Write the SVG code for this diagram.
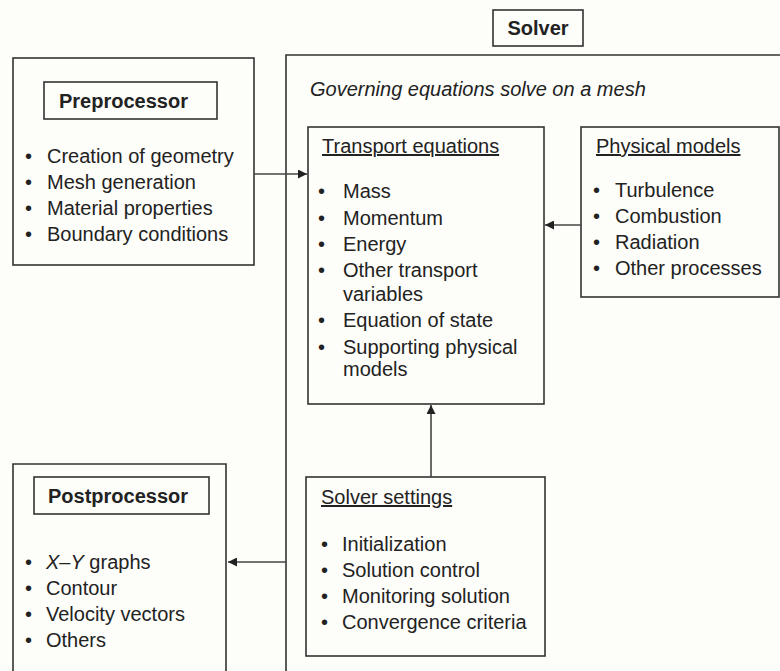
<svg xmlns="http://www.w3.org/2000/svg" width="780" height="671" viewBox="0 0 780 671">
<defs>
<style>
.box{fill:none;stroke:#333;stroke-width:1.6}
.t{font-family:"Liberation Sans",Arial,sans-serif;font-size:20px;fill:#222}
.b{font-weight:bold}
.u{text-decoration:underline}
.i{font-style:italic}
.conn{stroke:#444;stroke-width:1.6;fill:none}
</style>
<marker id="ah" viewBox="0 0 10 10" refX="10" refY="5" markerWidth="10" markerHeight="9" markerUnits="userSpaceOnUse" orient="auto">
<path d="M0,0 L10,5 L0,10 z" fill="#222"/>
</marker>
</defs>
<rect width="780" height="671" fill="#fdfdf9"/>

<g id="solver">
<rect class="box" x="493" y="10" width="90" height="36"/>
<text class="t b" x="538" y="35" text-anchor="middle">Solver</text>
<path class="box" d="M786,55 H286 V680"/>
<text class="t i" x="310" y="96">Governing equations solve on a mesh</text>
</g>

<g id="preprocessor">
<rect class="box" x="13" y="58" width="241" height="207"/>
<rect class="box" x="44" y="82" width="173" height="37"/>
<text class="t b" x="59" y="108">Preprocessor</text>
<g class="t">
<text x="25" y="163">•</text><text x="47" y="163">Creation of geometry</text>
<text x="25" y="189">•</text><text x="47" y="189">Mesh generation</text>
<text x="25" y="215">•</text><text x="47" y="215">Material properties</text>
<text x="25" y="241">•</text><text x="47" y="241">Boundary conditions</text>
</g>
</g>

<g id="transport">
<rect class="box" x="308" y="127" width="236" height="277"/>
<text class="t u" x="322" y="153">Transport equations</text>
<g class="t">
<text x="318" y="198">•</text><text x="343" y="198">Mass</text>
<text x="318" y="225">•</text><text x="343" y="225">Momentum</text>
<text x="318" y="251">•</text><text x="343" y="251">Energy</text>
<text x="318" y="277">•</text><text x="343" y="277">Other transport</text>
<text x="343" y="301">variables</text>
<text x="318" y="327">•</text><text x="343" y="327">Equation of state</text>
<text x="318" y="354">•</text><text x="343" y="354">Supporting physical</text>
<text x="343" y="376">models</text>
</g>
</g>

<g id="physical">
<rect class="box" x="581" y="127" width="198" height="170"/>
<text class="t u" x="596" y="153">Physical models</text>
<g class="t">
<text x="593" y="197">•</text><text x="615" y="197">Turbulence</text>
<text x="593" y="223">•</text><text x="615" y="223">Combustion</text>
<text x="593" y="249">•</text><text x="615" y="249">Radiation</text>
<text x="593" y="275">•</text><text x="615" y="275">Other processes</text>
</g>
</g>

<g id="settings">
<rect class="box" x="306" y="477" width="239" height="179"/>
<text class="t u" x="321" y="504">Solver settings</text>
<g class="t">
<text x="321" y="551">•</text><text x="342" y="551">Initialization</text>
<text x="321" y="577">•</text><text x="342" y="577">Solution control</text>
<text x="321" y="603">•</text><text x="342" y="603">Monitoring solution</text>
<text x="321" y="629">•</text><text x="342" y="629">Convergence criteria</text>
</g>
</g>

<g id="postprocessor">
<path class="box" d="M13,680 V464 H226 V680"/>
<rect class="box" x="34" y="477" width="175" height="37"/>
<text class="t b" x="48" y="503">Postprocessor</text>
<g class="t">
<text x="25" y="569">•</text><text x="46" y="569"><tspan class="i">X</tspan>–<tspan class="i">Y</tspan> graphs</text>
<text x="25" y="595">•</text><text x="46" y="595">Contour</text>
<text x="25" y="621">•</text><text x="46" y="621">Velocity vectors</text>
<text x="25" y="647">•</text><text x="46" y="647">Others</text>
</g>
</g>

<g id="connectors">
<line class="conn" x1="254" y1="174" x2="307" y2="174" marker-end="url(#ah)"/>
<line class="conn" x1="581" y1="225" x2="545" y2="225" marker-end="url(#ah)"/>
<line class="conn" x1="431" y1="477" x2="431" y2="405" marker-end="url(#ah)"/>
<line class="conn" x1="286" y1="562" x2="228" y2="562" marker-end="url(#ah)"/>
</g>
</svg>
